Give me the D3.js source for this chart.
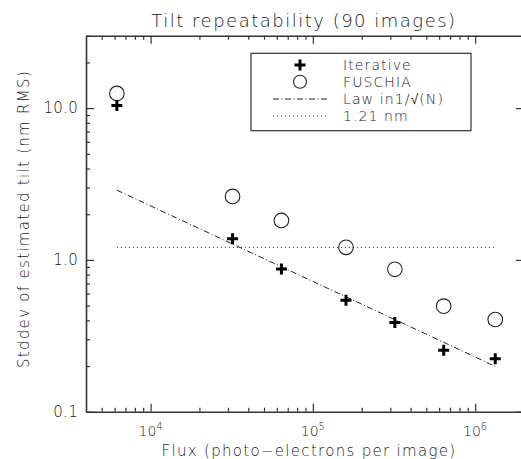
<!DOCTYPE html>
<html><head><meta charset="utf-8">
<script src="https://cdn.jsdelivr.net/npm/d3@7/dist/d3.min.js"></script>
<style>body{margin:0;background:#fff}svg{display:block}text{font-family:"DejaVu Sans",sans-serif;font-weight:200;fill:#222}</style>
</head><body>
<svg id="c" width="521" height="459"></svg>
<script>
// ---- data ----
const flux = [6200, 32000, 64000, 160000, 320000, 640000, 1330000];
const iterative = [10.4, 1.38, 0.87, 0.543, 0.387, 0.254, 0.223];
const fuschia = [12.5, 2.62, 1.82, 1.21, 0.867, 0.496, 0.405];
const lawX = [6200, 1330000];
const lawY = [2.88, 0.199];
const refX = [6200, 1330000];
const refY = [1.21, 1.21];
const xMajor = [1e4, 1e5, 1e6];
const xMajorExp = ["4", "5", "6"];
const yMajor = [0.1, 1, 10];
const legendLabels = ["Iterative", "FUSCHIA", "Law in1/\u221A(N)", "1.21 nm"];
const title = "Tilt repeatability (90 images)";
const xTitle = "Flux (photo\u2212electrons per image)";
const yTitle = "Stddev of estimated tilt (nm RMS)";

const svg = d3.select("#c");
const L = 86, R = 524, T = 35.7, B = 411.7;
const x = d3.scaleLog().domain([4000, 2e6]).range([L, R]);
const y = d3.scaleLog().domain([0.1, 30]).range([B, T]);
const ax = "#333";

const xMinor = x.ticks().filter(d => !xMajor.includes(d) && d > 4000 && d < 2e6);
const yMinor = y.ticks().filter(d => !yMajor.some(m => Math.abs(m - d) < 1e-9) && d > 0.1 && d <= 30);

function styleAxis(g){
  g.select(".domain").attr("stroke", ax).attr("stroke-width", 1.6);
  g.selectAll(".tick line").attr("stroke", ax).attr("stroke-width", 1.2);
}
// bottom
svg.append("g").attr("transform", `translate(0,${B})`)
  .call(d3.axisBottom(x).tickValues(xMajor).tickSizeInner(-8).tickSizeOuter(0).tickFormat(""))
  .call(styleAxis);
svg.append("g").attr("transform", `translate(0,${B})`)
  .call(d3.axisBottom(x).tickValues(xMinor).tickSizeInner(-4).tickSizeOuter(0).tickFormat(""))
  .call(g => { g.select(".domain").remove(); styleAxis(g); });
// top
svg.append("g").attr("transform", `translate(0,${T})`)
  .call(d3.axisTop(x).tickValues(xMajor).tickSizeInner(-8).tickSizeOuter(0).tickFormat(""))
  .call(styleAxis);
svg.append("g").attr("transform", `translate(0,${T})`)
  .call(d3.axisTop(x).tickValues(xMinor).tickSizeInner(-4).tickSizeOuter(0).tickFormat(""))
  .call(g => { g.select(".domain").remove(); styleAxis(g); });
// left
const gl = svg.append("g").attr("transform", `translate(${L},0)`)
  .call(d3.axisLeft(y).tickValues(yMajor).tickSizeInner(-8).tickSizeOuter(0).tickPadding(8).tickFormat(d3.format(".1f")))
  .call(styleAxis);
gl.selectAll(".tick text").attr("font-size", 15).attr("font-family", "DejaVu Sans").attr("font-weight", 200)
  .attr("letter-spacing", 0.3).attr("fill", "#222");
svg.append("g").attr("transform", `translate(${L},0)`)
  .call(d3.axisLeft(y).tickValues(yMinor).tickSizeInner(-4).tickSizeOuter(0).tickFormat(""))
  .call(g => { g.select(".domain").remove(); styleAxis(g); });
// right
svg.append("g").attr("transform", `translate(${R},0)`)
  .call(d3.axisRight(y).tickValues(yMajor).tickSizeInner(-8).tickSizeOuter(0).tickFormat(""))
  .call(styleAxis);
svg.append("g").attr("transform", `translate(${R},0)`)
  .call(d3.axisRight(y).tickValues(yMinor).tickSizeInner(-2).tickSizeOuter(0).tickFormat(""))
  .call(g => { g.select(".domain").remove(); styleAxis(g); });

// x tick labels with superscripts
const xl = svg.append("g").selectAll("text").data(xMajor).join("text")
  .attr("x", d => x(d)).attr("y", B + 24).attr("text-anchor", "middle").attr("font-size", 14);
xl.append("tspan").text("10");
xl.append("tspan").text((d, i) => xMajorExp[i]).attr("font-size", 10).attr("dy", -6);

// titles
svg.append("text").attr("x", 304).attr("y", 27).attr("text-anchor", "middle").attr("font-size", 18)
  .attr("letter-spacing", 1.5).text(title);
svg.append("text").attr("x", 309).attr("y", 456).attr("text-anchor", "middle").attr("font-size", 15)
  .attr("letter-spacing", 1.3).text(xTitle);
svg.append("text").attr("transform", "translate(29,219) rotate(-90)").attr("text-anchor", "middle").attr("font-size", 15)
  .attr("letter-spacing", 1.3).text(yTitle);

// lines
const line = d3.line().x(d => x(d[0])).y(d => y(d[1]));
svg.append("path").datum(d3.zip(refX, refY)).attr("d", line)
  .attr("fill", "none").attr("stroke", "#222").attr("stroke-width", 1).attr("stroke-dasharray", "1,3");
svg.append("path").datum(d3.zip(lawX, lawY)).attr("d", line)
  .attr("fill", "none").attr("stroke", "#222").attr("stroke-width", 1).attr("stroke-dasharray", "6,2.5,1,2.5");

// markers
function plusPath(s){ return `M${-s},0H${s}M0,${-s}V${s}`; }
svg.append("g").selectAll("circle").data(d3.zip(flux, fuschia)).join("circle")
  .attr("cx", d => x(d[0])).attr("cy", d => y(d[1])).attr("r", 7.3)
  .attr("fill", "none").attr("stroke", "#222").attr("stroke-width", 1.1);
svg.append("g").selectAll("path").data(d3.zip(flux, iterative)).join("path")
  .attr("transform", d => `translate(${x(d[0])},${y(d[1])})`).attr("d", plusPath(5.5))
  .attr("stroke", "#000").attr("stroke-width", 3).attr("fill", "none");

// legend
const lg = svg.append("g");
lg.append("rect").attr("x", 251).attr("y", 53.3).attr("width", 220).attr("height", 77.4)
  .attr("fill", "#fff").attr("stroke", ax).attr("stroke-width", 1.2);
const rowY = [65, 81.7, 99, 116];
const sx = 300, tx = 343;
lg.append("path").attr("transform", `translate(${sx},${rowY[0]})`).attr("d", plusPath(5.5))
  .attr("stroke", "#000").attr("stroke-width", 3);
lg.append("circle").attr("cx", sx).attr("cy", rowY[1]).attr("r", 6.5).attr("fill", "none").attr("stroke", "#222").attr("stroke-width", 1.1);
lg.append("line").attr("x1", sx - 27).attr("x2", sx + 27).attr("y1", rowY[2]).attr("y2", rowY[2])
  .attr("stroke", "#222").attr("stroke-dasharray", "6,2.5,1,2.5");
lg.append("line").attr("x1", sx - 27).attr("x2", sx + 27).attr("y1", rowY[3]).attr("y2", rowY[3])
  .attr("stroke", "#222").attr("stroke-dasharray", "1,3");
lg.selectAll("text").data(legendLabels).join("text")
  .attr("x", tx).attr("y", (d, i) => rowY[i] + 5).attr("font-size", 14).attr("letter-spacing", 1.1).text(d => d);
</script>
</body></html>
